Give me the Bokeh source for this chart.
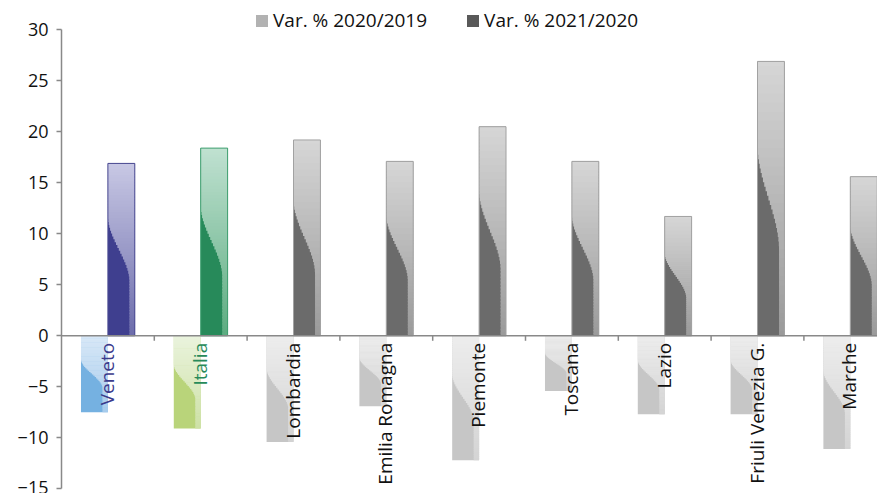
import numpy as np
from bokeh.plotting import figure
from bokeh.models import Range1d, FixedTicker, Legend, LegendItem, ColumnDataSource, Span
from bokeh.core.properties import value
from bokeh.embed import file_html
from bokeh.resources import INLINE

# ---- data ----
categories = ["Veneto", "Italia", "Lombardia", "Emilia Romagna", "Piemonte",
              "Toscana", "Lazio", "Friuli Venezia G.", "Marche"]
var_2020_2019 = [-7.5, -9.1, -10.4, -6.9, -12.2, -5.4, -7.7, -7.7, -11.1]
var_2021_2020 = [16.9, 18.4, 19.2, 17.1, 20.5, 17.1, 11.7, 26.9, 15.6]
y_ticks = [-15, -10, -5, 0, 5, 10, 15, 20, 25, 30]
series_labels = ["Var. % 2020/2019", "Var. % 2021/2020"]

# ---- styles ----
label_colors = ["#3b3b8c", "#278a5a"] + ["#111111"] * 7
dark_base = ["#3f3f8f", "#278a5a"] + ["#6b6b6b"] * 7
dark_top = ["#c8c8e4", "#c0e1d1"] + ["#d6d6d6"] * 7
dark_bot = ["#6c6cab", "#5cac80"] + ["#9a9a9a"] * 7
dark_line = ["#4a4a92", "#3f9f70"] + ["#a2a2a2"] * 7
light_base = ["#75b1e1", "#b9d47a"] + ["#c6c6c6"] * 7
light_top = ["#d8e8f7", "#eaf3dd"] + ["#ededed"] * 7
light_bot = ["#a6cbec", "#cde1a5"] + ["#d4d4d4"] * 7

FONT = "Open Sans"
BAR_W = 0.29
W, H = 877, 493
LEFT = 61
CAT_PX = 92.8
x_end = (W - LEFT) / CAT_PX
Y_MIN, Y_MAX = -15, 30
PX_TOP, PX_BOT = 29.3, 488.3          # pixel rows of Y_MAX and Y_MIN
scale = (PX_BOT - PX_TOP) / (Y_MAX - Y_MIN)
y_top = Y_MAX + PX_TOP / scale
y_bot = Y_MIN - (H - PX_BOT) / scale

p = figure(width=W, height=H, output_backend="svg", toolbar_location=None,
           x_range=Range1d(0, x_end), y_range=Range1d(y_bot, y_top),
           x_axis_location=None, min_border_left=LEFT, min_border_right=0,
           min_border_top=0, min_border_bottom=0)
p.outline_line_color = None
p.xgrid.visible = False
p.ygrid.visible = False
p.background_fill_color = "white"

centers = np.arange(len(categories)) + 0.5


def hex2rgb(h):
    return np.array([int(h[i:i + 2], 16) for i in (1, 3, 5)], dtype=float)


def rgb2hex(c):
    return "#%02x%02x%02x" % tuple(int(round(v)) for v in c)


def draw_series(vals, lefts, base, tops, bots, outline=None):
    vals = np.asarray(vals, dtype=float)
    hi = np.maximum(vals, 0)
    lo = np.minimum(vals, 0)
    p.quad(left=lefts, right=lefts + BAR_W, top=hi, bottom=lo,
           fill_color=base, line_color=None)
    N = 60
    L, R, T, B, C = [], [], [], [], []
    for j in range(len(vals)):
        ct, cb = hex2rgb(tops[j]), hex2rgb(bots[j])
        span = hi[j] - lo[j]
        for k in range(N):
            f0, f1 = k / N, (k + 1) / N
            fm = (f0 + f1) / 2
            t = min(max((fm - 0.3) / 0.38, 0.0), 1.0)
            off = 0.8 * (3 * t * t - 2 * t ** 3)
            L.append(lefts[j] + off * BAR_W)
            R.append(lefts[j] + BAR_W)
            T.append(hi[j] - span * f0)
            B.append(hi[j] - span * min(1.0, f1 + 0.4 / N))
            C.append(rgb2hex(ct + (cb - ct) * fm))
    src = ColumnDataSource(dict(left=L, right=R, top=T, bottom=B, color=C))
    p.quad(left="left", right="right", top="top", bottom="bottom",
           fill_color="color", line_color=None, source=src)
    if outline is not None:
        p.quad(left=lefts, right=lefts + BAR_W, top=hi, bottom=lo,
               fill_color=None, line_color=outline, line_width=1)


draw_series(var_2020_2019, centers - BAR_W, light_base, light_top, light_bot)
draw_series(var_2021_2020, centers, dark_base, dark_top, dark_bot, dark_line)

# zero line (category axis) with ticks between categories
p.add_layout(Span(location=0, dimension="width", line_color="#898989", line_width=1.5))
bounds = np.arange(1, len(categories))
p.segment(x0=bounds, y0=0, x1=bounds, y1=-5 / scale, line_color="#898989", line_width=1.5)

# category labels
p.text(x=centers - 0.01, y=[0] * len(categories), text=categories, angle=np.pi / 2,
       text_align="right", text_baseline="middle", y_offset=7,
       text_font=value(FONT), text_font_size="19px", text_color=label_colors)

# y axis
ax = p.yaxis[0]
ax.ticker = FixedTicker(ticks=y_ticks)
ax.bounds = (Y_MIN, Y_MAX)
ax.major_label_text_font = FONT
ax.major_label_text_font_size = "18px"
ax.major_label_text_color = "#111111"
ax.axis_line_color = "#898989"
ax.axis_line_width = 1.5
ax.major_tick_line_color = "#898989"
ax.major_tick_line_width = 1.5
ax.major_tick_out = 5
ax.major_tick_in = 0
ax.minor_tick_line_color = None
ax.major_label_standoff = 8

# legend (proxy renderers with no visible data)
r1 = p.vbar(x=[np.nan], top=[np.nan], width=0.1, fill_color="#b2b2b2", line_color=None)
r2 = p.vbar(x=[np.nan], top=[np.nan], width=0.1, fill_color="#595959", line_color=None)
legend = Legend(items=[LegendItem(label=series_labels[0], renderers=[r1]),
                       LegendItem(label=series_labels[1], renderers=[r2])],
                orientation="horizontal", location=(193, H - 33),
                label_text_font=FONT, label_text_font_size="19px",
                label_text_color="#111111",
                glyph_width=15, glyph_height=15, spacing=38, label_standoff=4,
                padding=0, margin=0, border_line_color=None,
                background_fill_alpha=0)
p.add_layout(legend, "center")

open("out.html", "w").write(file_html(p, INLINE))
